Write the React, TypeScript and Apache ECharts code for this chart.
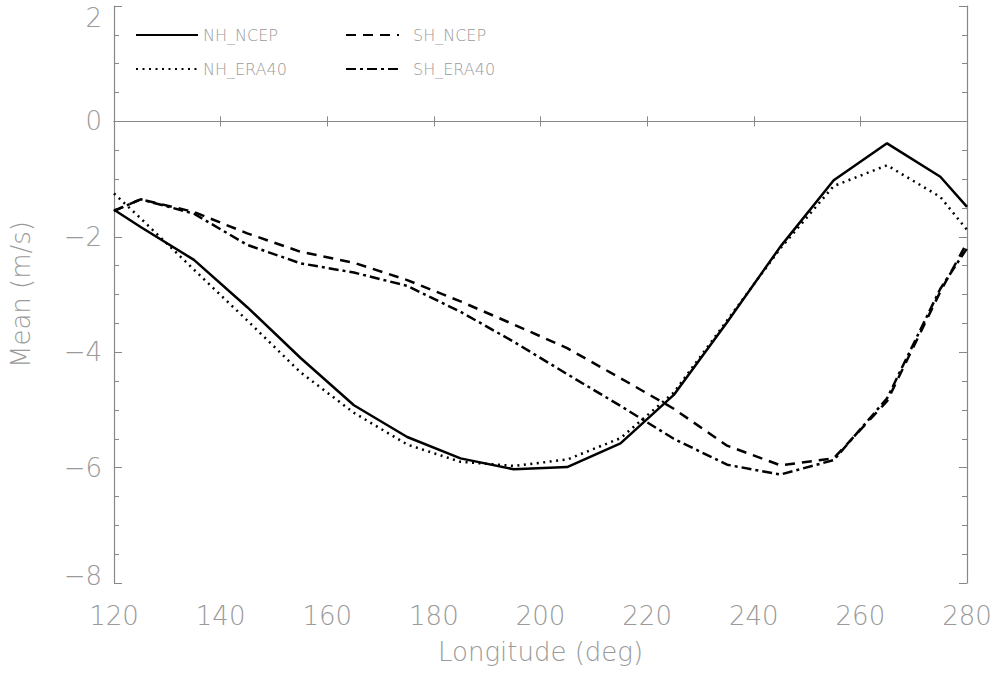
import React, { useEffect, useRef } from "react";
import * as echarts from "echarts";

const longitudes = [120, 125, 135, 145, 155, 165, 175, 185, 195, 205, 215, 225, 235, 245, 255, 265, 275, 280];
const nhNcep = [-1.53, -1.83, -2.4, -3.22, -4.1, -4.92, -5.47, -5.84, -6.03, -5.99, -5.58, -4.74, -3.48, -2.17, -1.02, -0.38, -0.96, -1.48];
const nhEra40 = [-1.25, -1.68, -2.57, -3.45, -4.35, -5.05, -5.6, -5.9, -5.97, -5.86, -5.49, -4.7, -3.45, -2.2, -1.12, -0.76, -1.31, -1.88];
const shNcep = [-1.55, -1.35, -1.57, -1.94, -2.26, -2.45, -2.75, -3.12, -3.52, -3.93, -4.45, -4.98, -5.62, -5.96, -5.84, -4.85, -2.95, -2.1];
const shEra40 = [-1.55, -1.35, -1.6, -2.14, -2.46, -2.62, -2.85, -3.3, -3.82, -4.38, -4.93, -5.5, -5.95, -6.12, -5.87, -4.8, -2.9, -2.2];
const xTicks = [120, 140, 160, 180, 200, 220, 240, 260, 280];
const yTicks = [-8, -6, -4, -2, 0, 2];

const GRAY = "#9a9a9a";
const AXIS = "#888";
const FONT = "'DejaVu Sans ExtraLight', 'DejaVu Sans', sans-serif";

export default function App() {
  const ref = useRef<HTMLDivElement>(null);
  useEffect(() => {
    if (!ref.current) return;
    const chart = echarts.init(ref.current, null, { renderer: "svg" });
    const pairs = (ys: number[]) => longitudes.map((x, i) => [x, ys[i]]);
    const mk = (name: string, ys: number[], type: any, width = 2.5) => ({
      name,
      type: "line",
      data: pairs(ys),
      symbol: "none",
      lineStyle: { color: "#000", width, type },
      itemStyle: { color: "#000" },
    });
    const axisCommon = {
      axisLine: { show: true, lineStyle: { color: AXIS, width: 1.2 } },
      splitLine: { show: false },
    };
    const labelStyle = { color: GRAY, fontSize: 26, fontFamily: FONT, fontWeight: 200 };
    const legendText = { color: GRAY, fontSize: 16, fontFamily: FONT, fontWeight: 200, lineHeight: 16 };
    chart.setOption({
      animation: false,
      backgroundColor: "#fff",
      grid: { left: 113.5, right: 33, top: 6, bottom: 93 },
      legend: [
        {
          data: ["NH_NCEP", "NH_ERA40"],
          orient: "vertical",
          left: 130,
          top: 22,
          itemWidth: 62,
          itemHeight: 14,
          itemGap: 18,
          itemStyle: { opacity: 0 },
          textStyle: { ...legendText },
        },
        {
          data: ["SH_NCEP", "SH_ERA40"],
          orient: "vertical",
          left: 340,
          top: 22,
          itemWidth: 53,
          itemHeight: 14,
          itemGap: 18,
          itemStyle: { opacity: 0 },
          textStyle: { ...legendText, padding: [0, 0, 0, 9] },
        },
      ],
      xAxis: [
        {
          type: "value",
          min: 120,
          max: 280,
          interval: 20,
          position: "bottom",
          ...axisCommon,
          axisTick: { show: true, inside: true, length: 5, lineStyle: { color: AXIS } },
          axisLabel: {
            ...labelStyle,
            margin: 20,
            formatter: (v: number) => (xTicks.includes(v) ? String(v) : ""),
          },
          name: "Longitude (deg)",
          nameLocation: "middle",
          nameGap: 56,
          nameTextStyle: labelStyle,
        },
        {
          type: "value",
          min: 120,
          max: 280,
          interval: 20,
          position: "top",
          ...axisCommon,
          axisTick: { show: true, inside: true, length: 5, lineStyle: { color: AXIS } },
          axisLabel: { show: false },
        },
      ],
      yAxis: [
        {
          type: "value",
          min: -8,
          max: 2,
          interval: 2,
          position: "left",
          ...axisCommon,
          axisTick: { show: true, inside: true, length: 8, lineStyle: { color: AXIS } },
          minorTick: { show: true, splitNumber: 4, length: 5, lineStyle: { color: AXIS } },
          axisLabel: {
            ...labelStyle,
            margin: 12,
            formatter: (v: number) => {
              if (!yTicks.includes(v)) return "";
              const s = v < 0 ? "\u2212" + Math.abs(v) : String(v);
              if (v === 2) return "{top|" + s + "}";
              if (v === -8) return "{bot|" + s + "}";
              return s;
            },
            rich: {
              top: { ...labelStyle, padding: [24, 0, 0, 0] },
              bot: { ...labelStyle, padding: [0, 0, 14, 0] },
            },
          },
          name: "Mean (m/s)",
          nameLocation: "middle",
          nameGap: 80,
          nameTextStyle: labelStyle,
        },
        {
          type: "value",
          min: -8,
          max: 2,
          interval: 2,
          position: "right",
          ...axisCommon,
          axisTick: { show: true, inside: true, length: 8, lineStyle: { color: AXIS } },
          minorTick: { show: true, splitNumber: 4, length: 5, lineStyle: { color: AXIS } },
          axisLabel: { show: false },
        },
      ],
      series: [
        {
          ...mk("NH_NCEP", nhNcep, "solid"),
          markLine: {
            silent: true,
            symbol: "none",
            label: { show: false },
            lineStyle: { color: AXIS, width: 1.2, type: "solid" },
            data: [{ yAxis: 0 }],
          },
        },
        mk("SH_NCEP", shNcep, [10, 7]),
        mk("NH_ERA40", nhEra40, [2, 4.5]),
        mk("SH_ERA40", shEra40, [10, 4, 3, 4]),
      ],
    });
    return () => chart.dispose();
  }, []);
  return <div ref={ref} style={{ position: "absolute", left: 0, top: 0, width: 1000, height: 676 }} />;
}
